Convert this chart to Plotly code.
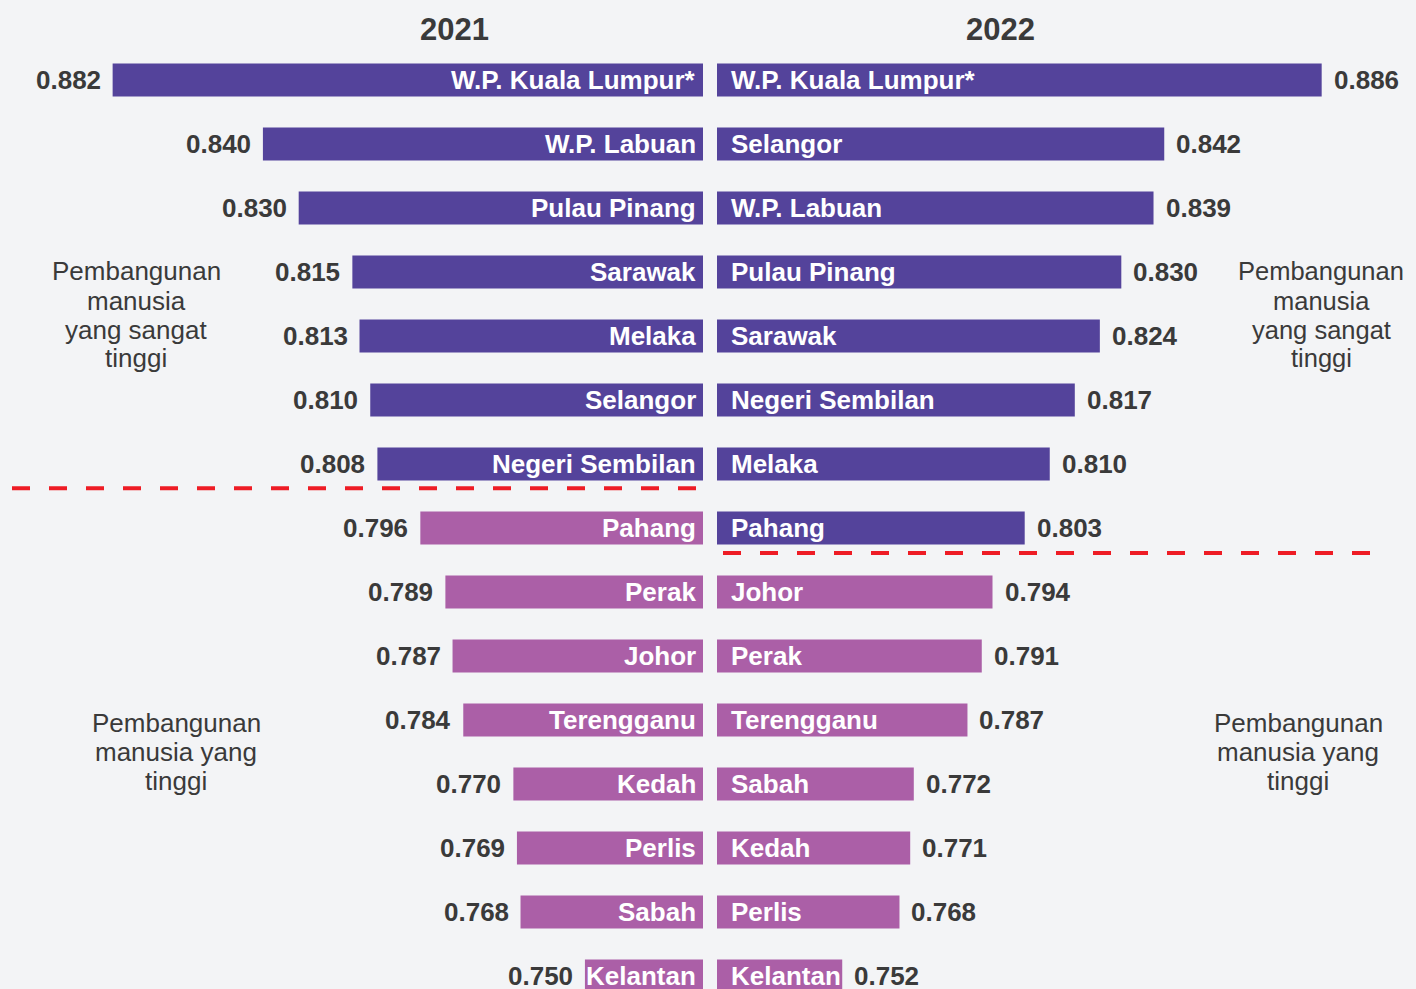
import plotly.graph_objects as go

# IPM by state, 2021 and 2022 (sorted high -> low)
states_2021 = ["W.P. Kuala Lumpur*", "W.P. Labuan", "Pulau Pinang", "Sarawak", "Melaka",
               "Selangor", "Negeri Sembilan", "Pahang", "Perak", "Johor", "Terengganu",
               "Kedah", "Perlis", "Sabah", "Kelantan"]
values_2021 = [0.882, 0.840, 0.830, 0.815, 0.813, 0.810, 0.808, 0.796, 0.789, 0.787,
               0.784, 0.770, 0.769, 0.768, 0.750]

states_2022 = ["W.P. Kuala Lumpur*", "Selangor", "W.P. Labuan", "Pulau Pinang", "Sarawak",
               "Negeri Sembilan", "Melaka", "Pahang", "Johor", "Perak", "Terengganu",
               "Sabah", "Kedah", "Perlis", "Kelantan"]
values_2022 = [0.886, 0.842, 0.839, 0.830, 0.824, 0.817, 0.810, 0.803, 0.794, 0.791,
               0.787, 0.772, 0.771, 0.768, 0.752]

years = ["2021", "2022"]
threshold = 0.800
group_very_high = ["Pembangunan", "manusia", "yang sangat", "tinggi"]
group_high = ["Pembangunan", "manusia yang", "tinggi"]

OFF = 8                     # page margin around the figure
W, H = 1416 - OFF, 989 - OFF
BG = "#f3f4f6"
DARK = "#54439b"
PINK = "#ab5fa7"
TXT = "#3a3a3a"
FONT = "Liberation Sans, Arial, sans-serif"

BASE = 0.717          # axis value where bars start
PX_PER_UNIT = 3578    # horizontal scale
LEFT_END = 703 - OFF  # px where left bars end
RIGHT_START = 717 - OFF
ROW0, ROW_STEP = 80 - OFF, 64

def px(x):
    return (x - OFF) / W

def py(y):
    return 1 - (y - OFF) / H

def colors(vals):
    return [DARK if v >= threshold else PINK for v in vals]

rows = list(range(len(values_2021)))

fig = go.Figure()
fig.add_trace(go.Bar(x=values_2021, y=rows, orientation="h", width=0.515,
                     marker=dict(color=colors(values_2021), line=dict(width=0)),
                     xaxis="x", yaxis="y", hoverinfo="skip"))
fig.add_trace(go.Bar(x=values_2022, y=rows, orientation="h", width=0.515,
                     marker=dict(color=colors(values_2022), line=dict(width=0)),
                     xaxis="x2", yaxis="y", hoverinfo="skip"))

bold = dict(size=26, family=FONT, weight="bold")
ann = []
for i, (s, v) in enumerate(zip(states_2021, values_2021)):
    ann.append(dict(x=1, xref="x domain", y=i, yref="y", text=s, showarrow=False,
                    xanchor="right", xshift=-5, font=dict(bold, color="white")))
    ann.append(dict(x=v, xref="x", y=i, yref="y", text=f"{v:.3f}", showarrow=False,
                    xanchor="right", xshift=-10, font=dict(bold, color=TXT)))
for i, (s, v) in enumerate(zip(states_2022, values_2022)):
    ann.append(dict(x=0, xref="x2 domain", y=i, yref="y", text=s, showarrow=False,
                    xanchor="left", xshift=12, font=dict(bold, color="white")))
    ann.append(dict(x=v, xref="x2", y=i, yref="y", text=f"{v:.3f}", showarrow=False,
                    xanchor="left", xshift=10, font=dict(bold, color=TXT)))

# year headers
for yr, cx in zip(years, [454, 1001]):
    ann.append(dict(x=px(cx), y=py(29), xref="paper", yref="paper", text=yr,
                    showarrow=False, xanchor="center", yanchor="middle",
                    font=dict(size=31, color=TXT, family=FONT, weight="bold")))

# group labels, one line at a time
def group_label(lines, cx, cy, size=26):
    n = len(lines)
    for k, line in enumerate(lines):
        y = cy + (k - (n - 1) / 2) * 29
        ann.append(dict(x=px(cx), y=py(y), xref="paper", yref="paper", text=line,
                        showarrow=False, xanchor="center", yanchor="middle",
                        font=dict(size=size, color=TXT, family=FONT)))

group_label(group_very_high, 136, 315)
group_label(group_very_high, 1321, 315, size=25.5)
group_label(group_high, 176, 752)
group_label(group_high, 1298, 752)

# threshold separators
n_left = sum(v >= threshold for v in values_2021)
n_right = sum(v >= threshold for v in values_2022)
dash = dict(color="#ee1c25", width=4, dash="18px,19px")
shapes = [
    dict(type="line", xref="paper", yref="y", x0=px(12), x1=px(703),
         y0=n_left - 0.62, y1=n_left - 0.62, line=dash),
    dict(type="line", xref="paper", yref="y", x0=px(723), x1=px(1380),
         y0=n_right - 0.61, y1=n_right - 0.61, line=dash),
]

fig.update_layout(
    width=W, height=H, margin=dict(l=0, r=0, t=0, b=0),
    paper_bgcolor=BG, plot_bgcolor=BG, showlegend=False, barmode="overlay",
    xaxis=dict(domain=[0, LEFT_END / W], range=[BASE + LEFT_END / PX_PER_UNIT, BASE],
               visible=False, fixedrange=True),
    xaxis2=dict(domain=[RIGHT_START / W, 1], anchor="y",
                range=[BASE, BASE + (W - RIGHT_START) / PX_PER_UNIT],
                visible=False, fixedrange=True),
    yaxis=dict(domain=[0, 1], range=[(H - ROW0) / ROW_STEP, -ROW0 / ROW_STEP],
               visible=False, fixedrange=True),
    annotations=ann, shapes=shapes,
)

# page background matches the chart, no scrollbars
page_js = ("document.documentElement.style.background='%s';"
           "document.body.style.background='%s';"
           "document.body.style.overflow='hidden';" % (BG, BG))
fig.write_html("out.html", post_script=page_js)
